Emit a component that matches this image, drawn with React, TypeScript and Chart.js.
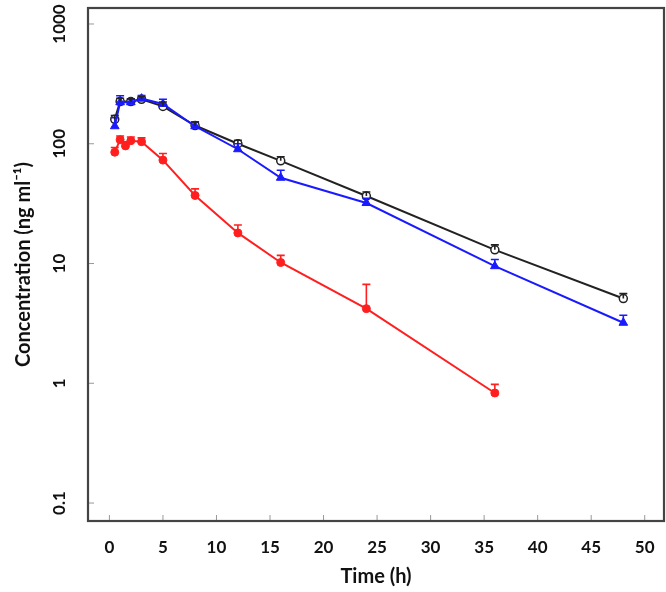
import { useEffect, useRef } from 'react';
import { Chart, registerables } from 'chart.js';

Chart.register(...registerables);

// sampling times (h)
const timesBlack = [0.5, 1, 2, 3, 5, 8, 12, 16, 24, 36, 48];
const timesBlue = [0.5, 1, 2, 3, 5, 8, 12, 16, 24, 36, 48];
const timesRed = [0.5, 1, 1.5, 2, 3, 5, 8, 12, 16, 24, 36];

// mean concentrations (ng/ml)
const concBlack = [160, 225, 225, 235, 205, 142, 100, 72, 36.6, 13, 5.1];
const concBlue = [140, 222, 222, 238, 215, 140, 90, 52, 32, 9.5, 3.2];
const concRed = [85, 108, 96, 106, 104, 73, 37, 18, 10.2, 4.2, 0.83];

// upper error (SD)
const errBlack = [12, 15, 12, 12, 18, 10, 7, 6, 3, 1.3, 0.5];
const errBlue = [25, 30, 15, 15, 20, 12, 10, 8, 3, 1.3, 0.5];
const errRed = [8, 8, 8, 8, 8, 10, 5, 3, 1.5, 2.5, 0.15];

const xTicks = [0, 5, 10, 15, 20, 25, 30, 35, 40, 45, 50];
const yTicks = [0.1, 1, 10, 100, 1000];
const yTickLabels = ['0.1', '1', '10', '100', '1000'];

const FONT = 'Lato, "DejaVu Sans", sans-serif';

const toPoints = (t: number[], v: number[]) => t.map((x, i) => ({ x, y: v[i] }));

const errorBars = {
  id: 'errorBars',
  afterDatasetsDraw(chart: any) {
    const ctx = chart.ctx;
    const ys = chart.scales.y;
    chart.data.datasets.forEach((ds: any, i: number) => {
      const meta = chart.getDatasetMeta(i);
      const errs: number[] = ds.errors || [];
      ctx.save();
      ctx.strokeStyle = ds.borderColor;
      ctx.lineWidth = 1.6;
      meta.data.forEach((pt: any, j: number) => {
        const top = ys.getPixelForValue(ds.data[j].y + errs[j]);
        ctx.beginPath();
        ctx.moveTo(pt.x, pt.y);
        ctx.lineTo(pt.x, top);
        ctx.moveTo(pt.x - 4, top);
        ctx.lineTo(pt.x + 4, top);
        ctx.stroke();
      });
      ctx.restore();
    });
  },
};

const frame = {
  id: 'frame',
  afterDraw(chart: any) {
    const ctx = chart.ctx;
    const a = chart.chartArea;
    const xs = chart.scales.x;
    const ys = chart.scales.y;
    ctx.save();
    ctx.strokeStyle = '#999';
    ctx.lineWidth = 1;
    yTicks.forEach((v) => {
      const py = ys.getPixelForValue(v);
      ctx.beginPath();
      ctx.moveTo(a.left, py);
      ctx.lineTo(a.left + 6, py);
      ctx.stroke();
    });
    xTicks.forEach((v) => {
      const px = xs.getPixelForValue(v);
      ctx.beginPath();
      ctx.moveTo(px, a.bottom);
      ctx.lineTo(px, a.bottom - 6);
      ctx.stroke();
    });
    ctx.strokeStyle = '#444';
    ctx.lineWidth = 2.2;
    ctx.strokeRect(a.left, a.top, a.right - a.left, a.bottom - a.top);

    ctx.fillStyle = '#111';
    ctx.textAlign = 'center';
    ctx.textBaseline = 'middle';
    ctx.font = `bold 17px ${FONT}`;
    xTicks.forEach((v) => {
      ctx.fillText(String(v), xs.getPixelForValue(v), a.bottom + 27);
    });
    yTicks.forEach((v, i) => {
      const py = ys.getPixelForValue(v);
      ctx.save();
      ctx.translate(60, py);
      ctx.rotate(-Math.PI / 2);
      ctx.fillText(yTickLabels[i], 0, 0);
      ctx.restore();
    });
    ctx.font = `bold 20px ${FONT}`;
    ctx.fillText('Time (h)', (a.left + a.right) / 2, a.bottom + 56);
    ctx.translate(24, (a.top + a.bottom) / 2);
    ctx.rotate(-Math.PI / 2);
    ctx.fillText('Concentration (ng ml\u207B\u00B9)', 0, 0);
    ctx.restore();
  },
};

export default function App() {
  const canvasRef = useRef<HTMLCanvasElement | null>(null);
  const chartRef = useRef<Chart | null>(null);

  useEffect(() => {
    if (!canvasRef.current) return;
    if (chartRef.current) chartRef.current.destroy();

    chartRef.current = new Chart(canvasRef.current, {
      type: 'line',
      data: {
        datasets: [
          {
            label: 'blue',
            data: toPoints(timesBlue, concBlue),
            errors: errBlue,
            borderColor: '#1a1aff',
            backgroundColor: '#1a1aff',
            borderWidth: 2,
            pointStyle: 'triangle',
            pointRadius: 5,
            pointBorderWidth: 1,
          } as any,
          {
            label: 'black',
            data: toPoints(timesBlack, concBlack),
            errors: errBlack,
            borderColor: '#222',
            backgroundColor: '#fff',
            borderWidth: 2,
            pointStyle: 'circle',
            pointRadius: 4,
            pointBorderWidth: 1.5,
          } as any,
          {
            label: 'red',
            data: toPoints(timesRed, concRed),
            errors: errRed,
            borderColor: '#ff1f1f',
            backgroundColor: '#ff1f1f',
            borderWidth: 2,
            pointStyle: 'circle',
            pointRadius: 4,
            pointBorderWidth: 1,
          } as any,
        ],
      },
      options: {
        responsive: false,
        animation: false,
        layout: { autoPadding: false, padding: { top: 8, right: 2, left: 8, bottom: 0 } },
        plugins: {
          legend: { display: false },
          tooltip: { enabled: false },
        },
        scales: {
          x: {
            type: 'linear',
            min: -2,
            max: 51.8,
            afterFit: (s: any) => {
              s.height = 71;
            },
            grid: { display: false, drawTicks: false },
            border: { display: false },
            ticks: { display: false },
          },
          y: {
            type: 'logarithmic',
            min: 0.0708,
            max: 1360,
            afterFit: (s: any) => {
              s.width = 80;
            },
            grid: { display: false, drawTicks: false },
            border: { display: false },
            ticks: { display: false },
          },
        },
      },
      plugins: [errorBars, frame],
    });

    return () => {
      chartRef.current?.destroy();
    };
  }, []);

  return (
    <div style={{ position: 'absolute', left: 0, top: 0, width: 666, height: 592, background: '#fff' }}>
      <canvas ref={canvasRef} width={666} height={592} />
    </div>
  );
}
